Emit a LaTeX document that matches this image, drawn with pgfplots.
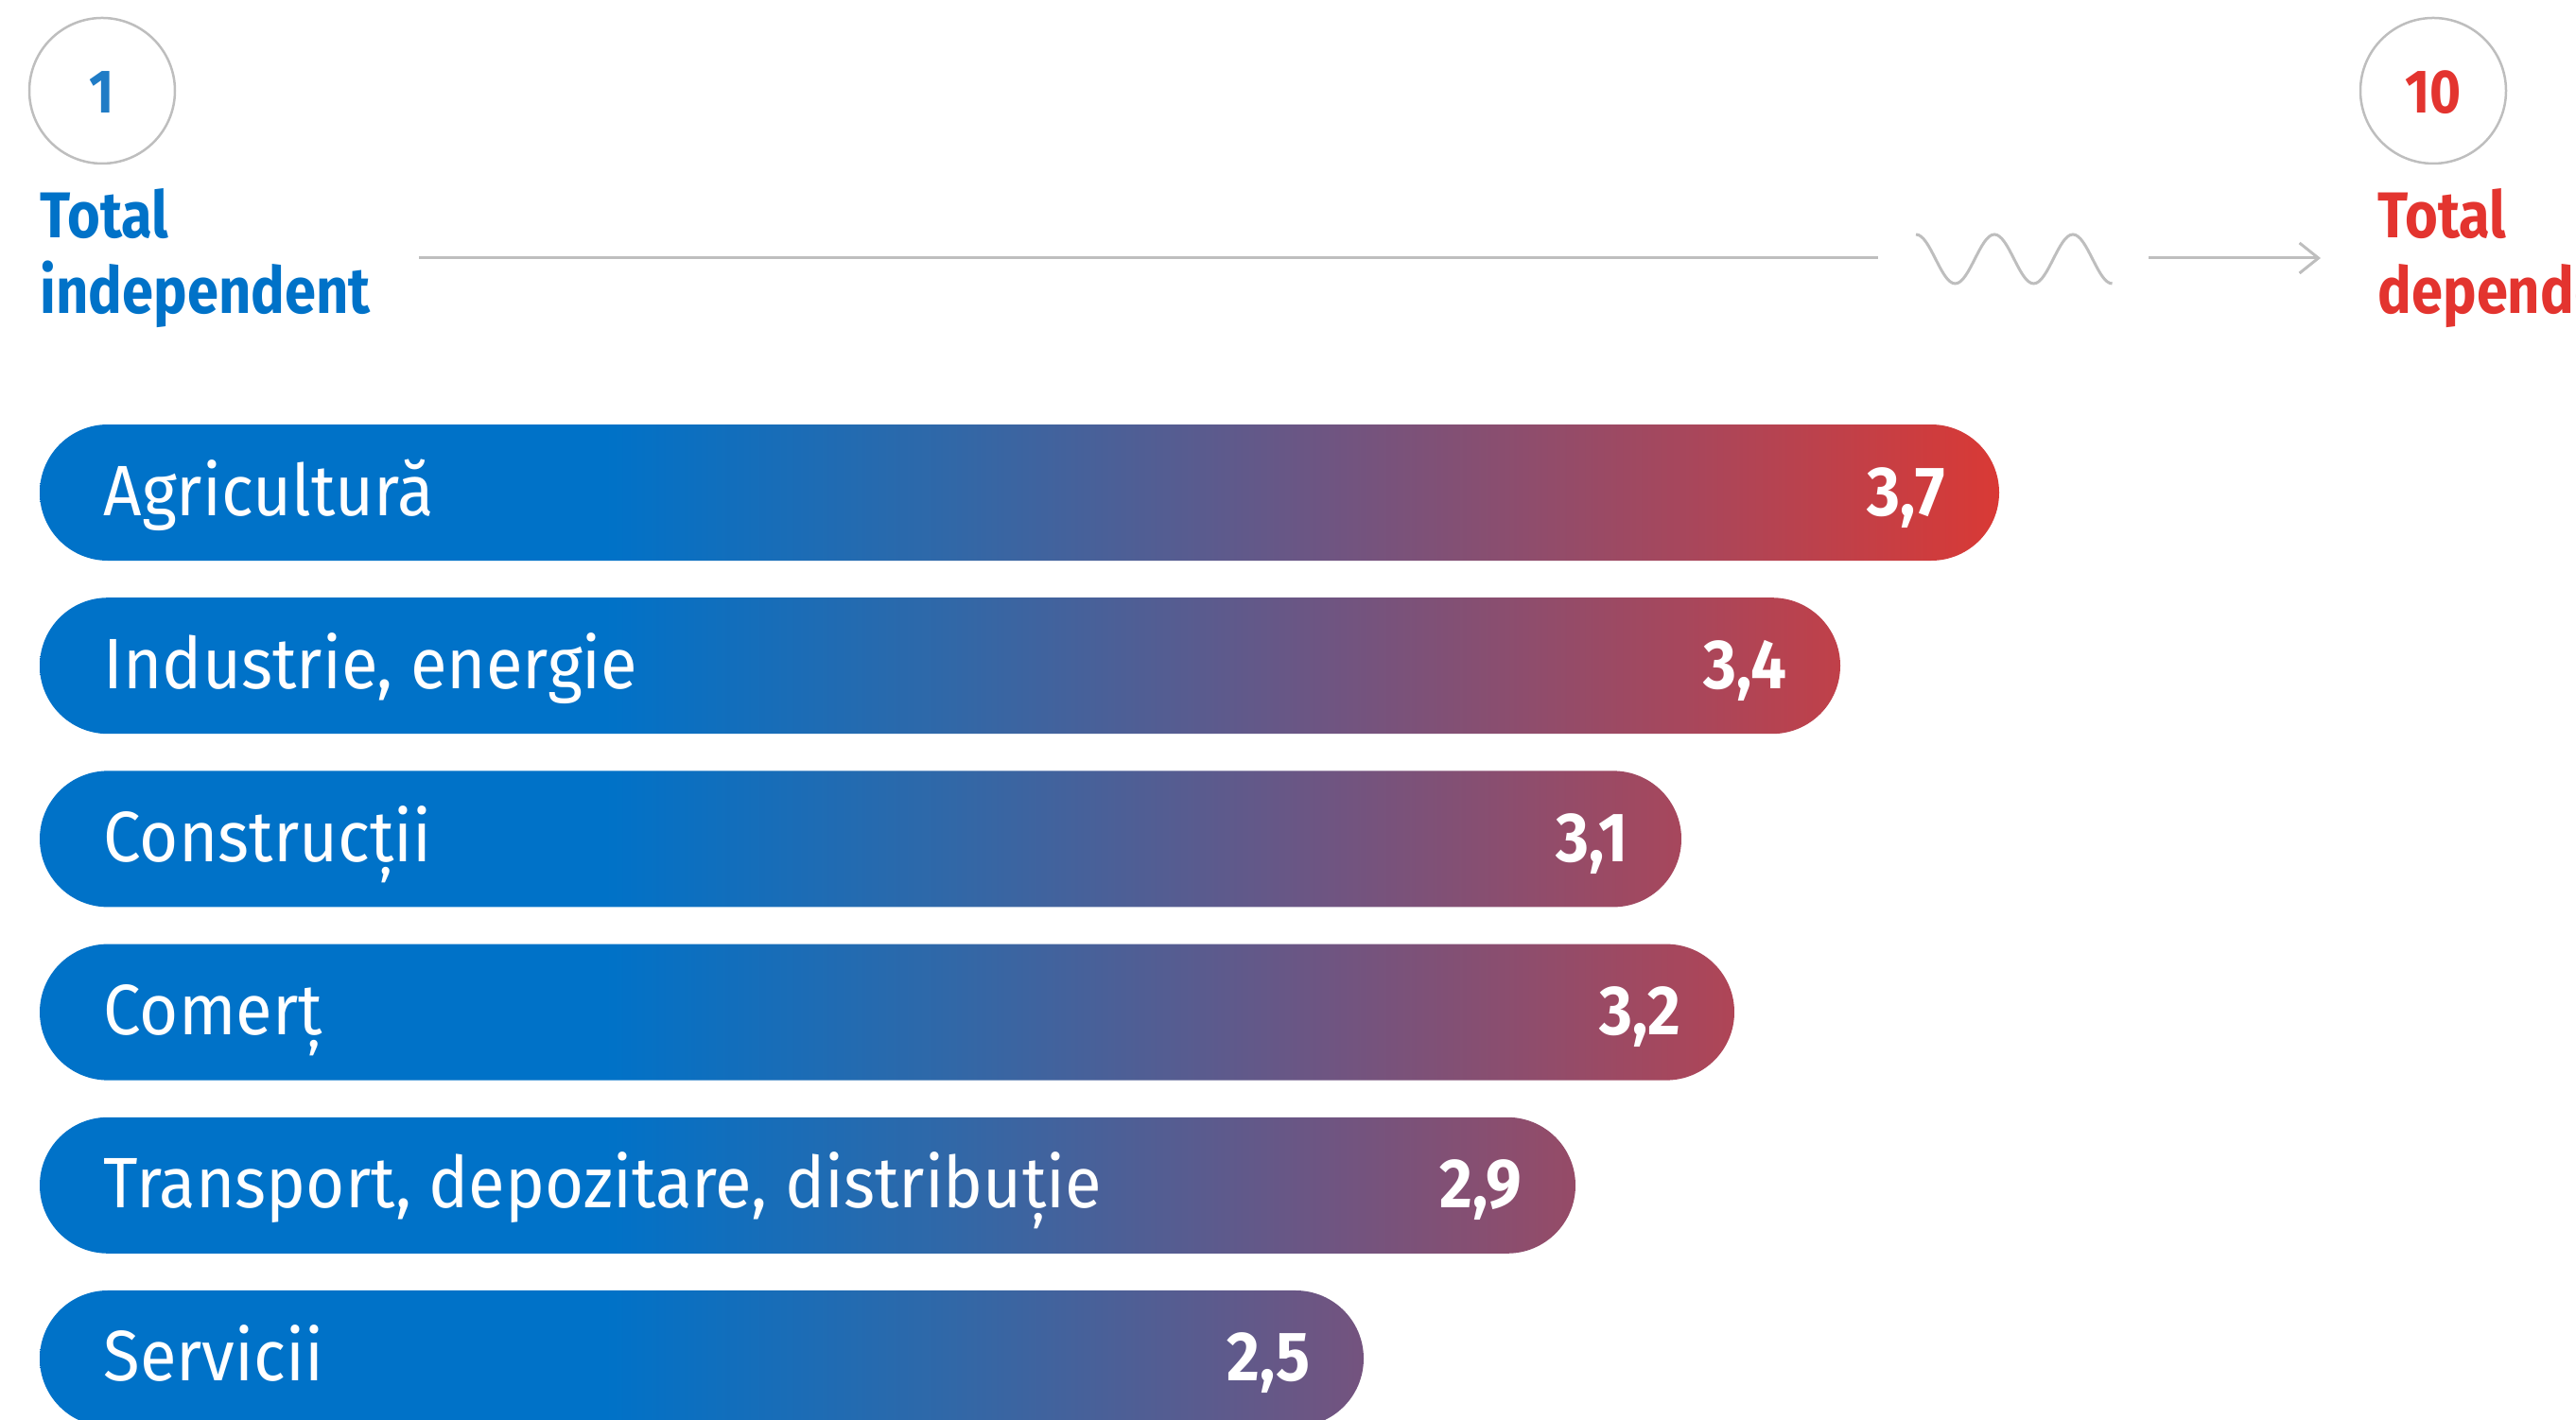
\documentclass[border=0pt]{standalone}
\usepackage{fontspec}
\setmainfont{Fira Sans}[FakeStretch=0.87]
\newfontfamily\labelfont{Fira Sans}[FakeStretch=0.935]
\newfontfamily\valfont{Fira Sans}[FakeStretch=0.91]
\usepackage{pgfplots}
\pgfplotsset{compat=1.18}
\usetikzlibrary{arrows.meta}

\definecolor{dblue}{RGB}{0,114,200}
\definecolor{dred}{RGB}{227,52,47}
\definecolor{lgray}{RGB}{190,190,190}
\definecolor{numblue}{RGB}{32,124,198}

% one shading per bar, so that all bars share one left-to-right colour ramp
\pgfdeclarehorizontalshading{barA}{100bp}{rgb(0bp)=(0,0.447,0.784); rgb(39.43bp)=(0,0.447,0.784); rgb(48.12bp)=(0.188,0.408,0.659); rgb(57.77bp)=(0.431,0.333,0.510); rgb(67.42bp)=(0.667,0.275,0.353); rgb(75bp)=(0.851,0.224,0.208); rgb(100bp)=(0.851,0.224,0.208)}
\pgfdeclarehorizontalshading{barB}{100bp}{rgb(0bp)=(0,0.447,0.784); rgb(40.70bp)=(0,0.447,0.784); rgb(50.16bp)=(0.188,0.408,0.659); rgb(60.66bp)=(0.431,0.333,0.510); rgb(71.17bp)=(0.667,0.275,0.353); rgb(75bp)=(0.753,0.251,0.286); rgb(100bp)=(0.753,0.251,0.286)}
\pgfdeclarehorizontalshading{barC}{100bp}{rgb(0bp)=(0,0.447,0.784); rgb(42.22bp)=(0,0.447,0.784); rgb(52.59bp)=(0.188,0.408,0.659); rgb(64.11bp)=(0.431,0.333,0.510); rgb(75bp)=(0.655,0.278,0.361); rgb(100bp)=(0.655,0.278,0.361)}
\pgfdeclarehorizontalshading{barD}{100bp}{rgb(0bp)=(0,0.447,0.784); rgb(41.69bp)=(0,0.447,0.784); rgb(51.73bp)=(0.188,0.408,0.659); rgb(62.89bp)=(0.431,0.333,0.510); rgb(74.05bp)=(0.667,0.275,0.353); rgb(75bp)=(0.686,0.271,0.337); rgb(100bp)=(0.686,0.271,0.337)}
\pgfdeclarehorizontalshading{barE}{100bp}{rgb(0bp)=(0,0.447,0.784); rgb(43.41bp)=(0,0.447,0.784); rgb(54.50bp)=(0.188,0.408,0.659); rgb(66.81bp)=(0.431,0.333,0.510); rgb(75bp)=(0.588,0.294,0.404); rgb(100bp)=(0.588,0.294,0.404)}
\pgfdeclarehorizontalshading{barF}{100bp}{rgb(0bp)=(0,0.447,0.784); rgb(46.36bp)=(0,0.447,0.784); rgb(59.21bp)=(0.188,0.408,0.659); rgb(73.50bp)=(0.431,0.333,0.510); rgb(75bp)=(0.455,0.325,0.494); rgb(100bp)=(0.455,0.325,0.494)}

\begin{document}
\begin{tikzpicture}
\path[use as bounding box] (0,0) rectangle (27.24,15.02);

\begin{axis}[
  at={(0.42cm,0.65cm)}, anchor=south west,
  scale only axis, width=22.4cm, height=9.16cm,
  xmin=0, xmax=4, ymin=0, ymax=5, y dir=reverse,
  enlargelimits=false, clip=false, axis on top,
  xbar, bar width=1.44cm, bar shift=0pt,
  axis line style={draw=none}, major tick length=0pt,
  xtick=\empty,
  ytick={0,1,2,3,4,5},
  yticklabels={Agricultură, {Industrie, energie}, Construcții, Comerț, {Transport, depozitare, distribuție}, Servicii},
  yticklabel style={anchor=base west, inner sep=0pt, xshift=0.67cm, yshift=-0.24cm, font=\labelfont\fontsize{21.5}{24}\selectfont, text=white},
  nodes near coords, point meta=x,
  nodes near coords style={anchor=base east, inner sep=0pt, xshift=-0.56cm, yshift=-0.24cm, font=\valfont\fontsize{21}{24}\selectfont\bfseries, text=white},
  /pgf/number format/use comma, /pgf/number format/fixed, /pgf/number format/fixed zerofill, /pgf/number format/precision=1, /pgf/number format/assume math mode=true,
]
\addplot[draw=none, shading=barA, rounded corners=0.72cm] coordinates {(3.7,0)};
\addplot[draw=none, shading=barB, rounded corners=0.72cm] coordinates {(3.4,1)};
\addplot[draw=none, shading=barC, rounded corners=0.72cm] coordinates {(3.1,2)};
\addplot[draw=none, shading=barD, rounded corners=0.72cm] coordinates {(3.2,3)};
\addplot[draw=none, shading=barE, rounded corners=0.72cm] coordinates {(2.9,4)};
\addplot[draw=none, shading=barF, rounded corners=0.72cm] coordinates {(2.5,5)};
\end{axis}

% header
\draw[lgray, line width=0.25mm] (1.08,14.06) circle (0.77cm);
\draw[lgray, line width=0.25mm] (25.73,14.06) circle (0.77cm);
\node[anchor=base, inner sep=0pt, text=numblue, font=\bfseries\fontsize{18.5}{20}\selectfont] at (1.08,13.82) {1};
\node[anchor=base, inner sep=0pt, text=dred, font=\bfseries\fontsize{18.5}{20}\selectfont] at (25.73,13.82) {10};

\node[anchor=base west, inner sep=0pt, text=dblue, font=\bfseries\fontsize{19.5}{22}\selectfont] at (0.42,12.50) {Total};
\node[anchor=base west, inner sep=0pt, text=dblue, font=\bfseries\fontsize{19.5}{22}\selectfont] at (0.42,11.70) {independent};
\node[anchor=base west, inner sep=0pt, text=dred, font=\bfseries\fontsize{19.5}{22}\selectfont] at (25.14,12.50) {Total};
\node[anchor=base west, inner sep=0pt, text=dred, font=\bfseries\fontsize{19.5}{22}\selectfont] at (25.14,11.70) {dependent};

\draw[lgray, line width=0.3mm] (4.43,12.29) -- (19.86,12.29);
\draw[lgray, line width=0.3mm] (20.26,12.54) cos (20.4675,12.28) sin (20.675,12.02) cos (20.8825,12.28) sin (21.09,12.54) cos (21.2975,12.28) sin (21.505,12.02) cos (21.7125,12.28) sin (21.92,12.54) cos (22.1275,12.28) sin (22.335,12.02);
\draw[lgray, line width=0.3mm, -{Straight Barb[length=2mm,width=3.2mm]}] (22.72,12.29) -- (24.54,12.29);
\end{tikzpicture}
\end{document}
